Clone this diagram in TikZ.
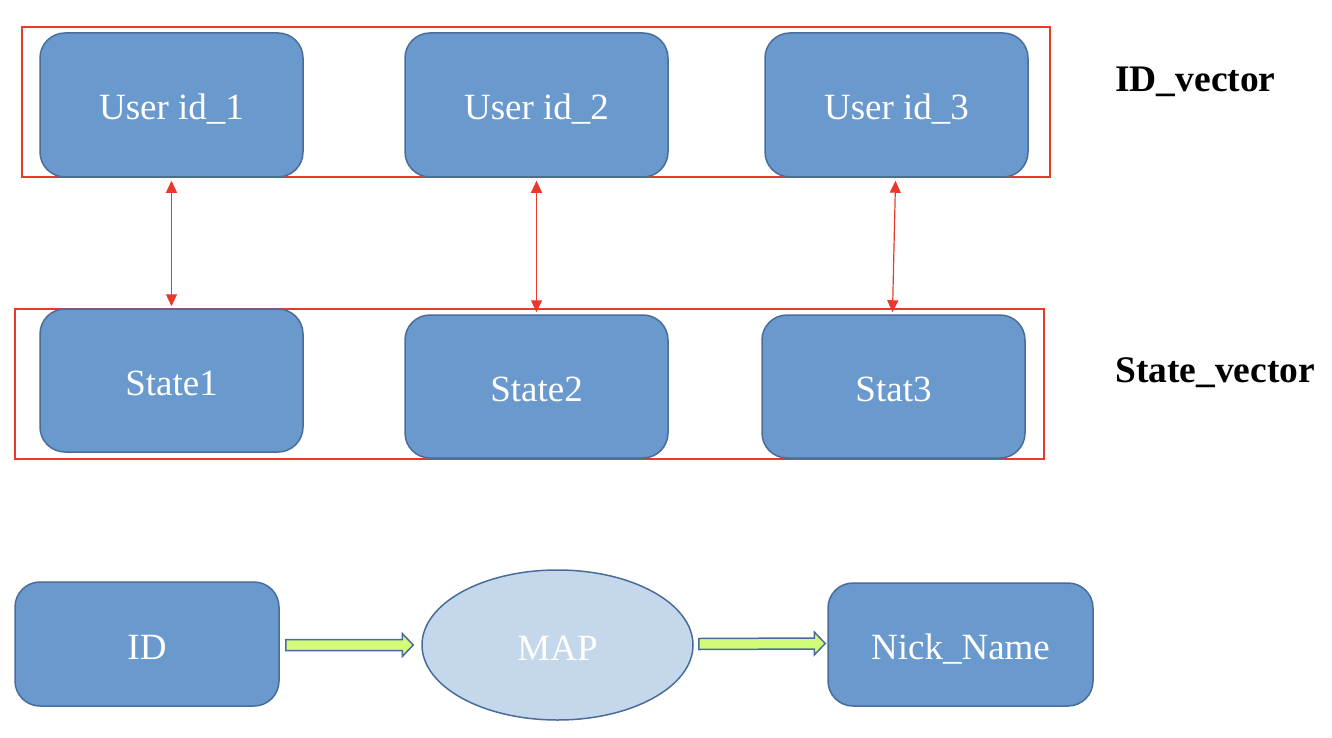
\documentclass[tikz,border=0pt]{standalone}
\usepackage{fontspec}
\setmainfont{Liberation Serif}
\usetikzlibrary{arrows.meta,shapes.geometric,calc}
\definecolor{boxfill}{RGB}{106,153,206}
\definecolor{boxline}{RGB}{72,109,154}
\definecolor{mapfill}{RGB}{197,215,235}
\definecolor{framered}{RGB}{232,57,43}
\definecolor{arrowfill}{RGB}{212,250,122}
\tikzset{
  bluebox/.style={draw=boxline, line width=1.5pt, fill=boxfill, rounded corners=25pt,
    text=white, font=\fontsize{37}{44}\selectfont, inner sep=0pt,
    text height=30pt, text depth=0pt},
  mapnode/.style={ellipse, draw=boxline, line width=1.5pt, fill=mapfill,
    text=white, font=\fontsize{37}{44}\selectfont, inner sep=0pt,
    text height=30pt, text depth=0pt,
    minimum width=271pt, minimum height=150pt},
  frame/.style={draw=framered, line width=2pt},
  link/.style={draw=framered, line width=1.2pt,
    {Triangle[length=12pt,width=11pt]}-{Triangle[length=12pt,width=11pt]}},
  blockarrow/.style={draw=boxline, line width=1.5pt, fill=arrowfill},
  veclabel/.style={anchor=west, font=\fontsize{37.5}{44}\selectfont\bfseries, inner sep=0pt}
}
\begin{document}
\begin{tikzpicture}[x=1pt,y=-1pt]
\useasboundingbox (0,0) rectangle (1332,738);
% frames
\draw[frame] (22,27) rectangle (1050,177);
\draw[frame] (15,309) rectangle (1044,459);
% top row
\node[bluebox, minimum width=263pt, minimum height=144pt] (u1) at (171.5,105) {User id\_1};
\node[bluebox, minimum width=263pt, minimum height=144pt] (u2) at (536.5,105) {User id\_2};
\node[bluebox, minimum width=263pt, minimum height=144pt] (u3) at (896.5,105) {User id\_3};
% second row
\node[bluebox, minimum width=263pt, minimum height=143pt] (s1) at (171.5,380.5) {State1};
\node[bluebox, minimum width=263pt, minimum height=143pt] (s2) at (536.5,386.5) {State2};
\node[bluebox, minimum width=263pt, minimum height=143pt] (s3) at (893.5,386.5) {Stat3};
% labels
\node[veclabel] (idv) at (1115,82) {ID\_vector};
\node[veclabel] (stv) at (1115,373) {State\_vector};
% links
\draw[link] ($(u1.south)+(0,3)$) -- ($(s1.north)+(0,-2)$);
\draw[link] ($(u2.south)+(0,3)$) -- ($(s2.north)+(0,-2)$);
\draw[link] ($(u3.south)+(-1,3)$) -- ($(s3.north)+(-1,-2)$);
% bottom row
\node[bluebox, minimum width=264pt, minimum height=124pt] (id) at (147,644) {ID};
\node[mapnode] (map) at (557.5,645) {MAP};
\node[bluebox, minimum width=265pt, minimum height=123pt] (nick) at (960.5,644.5) {Nick\_Name};
% block arrows
\coordinate (a1s) at ($(id.east)+(6,1)$);
\coordinate (a1e) at ($(map.west)+(-8,0)$);
\draw[blockarrow] ($(a1s)+(0,-5.5)$) -- ($(a1e)+(-11,-5.5)$) -- ($(a1e)+(-11,-11.5)$) -- (a1e)
  -- ($(a1e)+(-11,11.5)$) -- ($(a1e)+(-11,5.5)$) -- ($(a1s)+(0,5.5)$) -- cycle;
\coordinate (a2s) at ($(map.east)+(5,-1)$);
\coordinate (a2e) at ($(nick.west)+(-2,-1)$);
\draw[blockarrow] ($(a2s)+(0,-5.5)$) -- ($(a2e)+(-11,-5.5)$) -- ($(a2e)+(-11,-11.5)$) -- (a2e)
  -- ($(a2e)+(-11,11.5)$) -- ($(a2e)+(-11,5.5)$) -- ($(a2s)+(0,5.5)$) -- cycle;
\end{tikzpicture}
\end{document}
